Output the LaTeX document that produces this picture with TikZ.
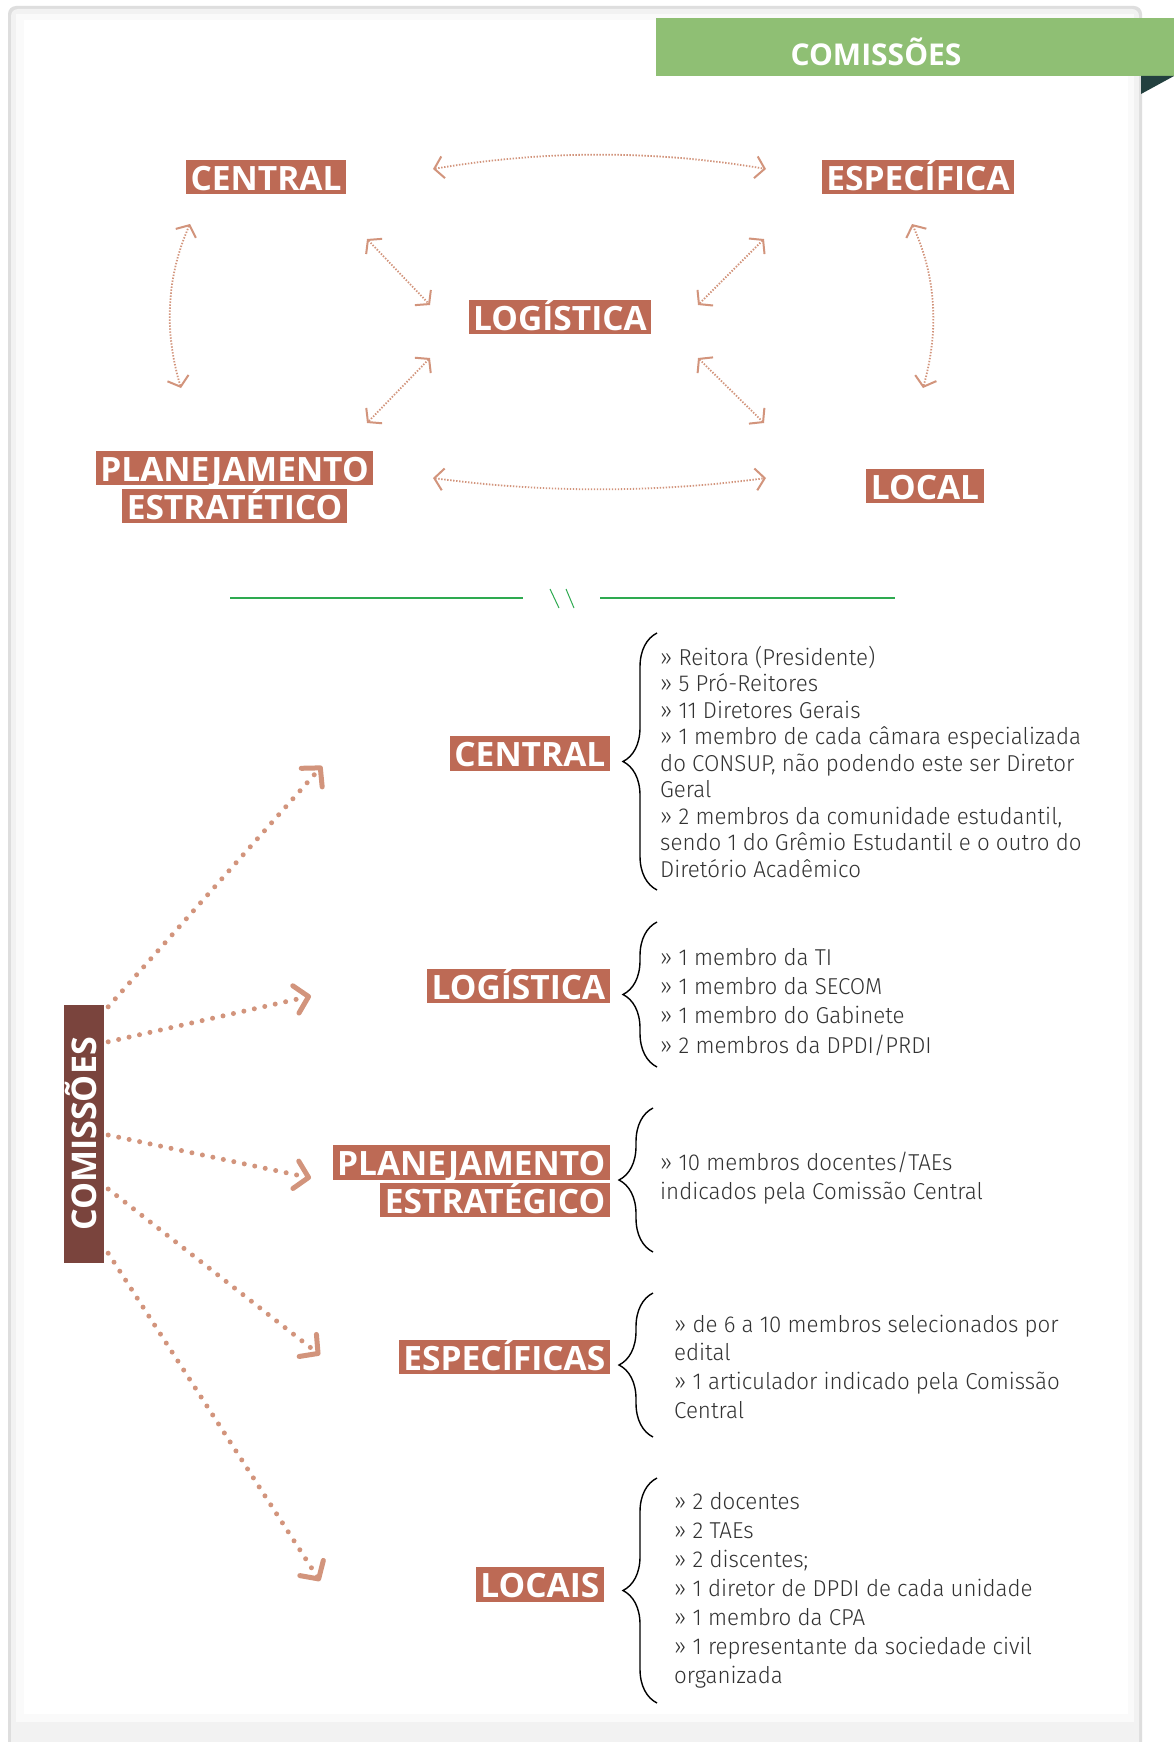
\documentclass[tikz,border=0pt]{standalone}
\usepackage{fontspec}
\setmainfont{Open Sans}
\IfFontExistsTF{Fira Sans Light}{\newfontfamily\bodyfont{Fira Sans Light}[FakeStretch=0.97]}{\newfontfamily\bodyfont{Fira Sans}[FakeStretch=0.97]}
\usetikzlibrary{arrows.meta,calc,decorations.pathreplacing}
\definecolor{lblbrown}{RGB}{189,106,85}
\definecolor{combrown}{RGB}{122,68,61}
\definecolor{arrcol}{RGB}{210,148,124}
\definecolor{bannergreen}{RGB}{143,191,116}
\definecolor{darkteal}{RGB}{35,64,63}
\definecolor{sepgreen}{RGB}{46,170,80}
\definecolor{txtgray}{RGB}{50,50,50}
\tikzset{
  lbl/.style={fill=lblbrown, text=white, font=\bfseries\fontsize{33.5}{33.5}\selectfont,
    inner xsep=4.5pt, inner ysep=0pt, text height=30.5pt, text depth=4pt},
  combox/.style={fill=combrown, text=white, font=\bfseries\fontsize{34}{34}\selectfont,
    minimum width=40pt, minimum height=258pt, inner sep=0pt},
  toparr/.style={draw=arrcol, line width=1.8pt, dash pattern=on 1.4pt off 1.6pt,
    {Straight Barb[length=9pt,width=22pt,line width=2pt]}-{Straight Barb[length=9pt,width=22pt,line width=2pt]}},
  botarr/.style={draw=arrcol, line width=5pt, line cap=round, dash pattern=on 0pt off 10.7pt,
    -{Straight Barb[length=13pt,width=28pt,line width=5pt,round]}},
  bracestyle/.style={decorate, decoration={brace, amplitude=34pt}, line width=1.4pt, black},
  txt/.style={anchor=north west, inner sep=0pt, align=left, text=txtgray},
  sepline/.style={draw=sepgreen, line width=1.6pt}
}
\begin{document}
\begin{tikzpicture}[x=1pt,y=-1pt]
\useasboundingbox (0,0) rectangle (1174,1742);
\fill[white] (0,0) rectangle (1174,1742);
% card
\fill[black!13, rounded corners=8pt] (8,6) rectangle (1142,1770);
\fill[black!5, rounded corners=7pt] (11,9) rectangle (1139,1770);
\fill[black!2] (16,14) rectangle (1134,1722);
\fill[white] (24,20) rectangle (1128,1714);
% banner
\fill[bannergreen] (656,18) rectangle (1174,76);
\node[text=white, font=\bfseries\fontsize{30}{30}\selectfont, inner sep=0pt] (banner) at (876,52) {COMISSÕES};
\fill[darkteal] (1141,76) -- (1174,76) -- (1141,94) -- cycle;

% top diagram
\node[lbl] (tCentral) at (266,177) {CENTRAL};
\node[lbl] (tEspecifica) at (918,177) {ESPECÍFICA};
\node[lbl] (tLogistica) at (560,317) {LOGÍSTICA};
\node[lbl] (tPlan1) at (234.5,468) {PLANEJAMENTO};
\node[lbl] (tPlan2) at (234.5,506) {ESTRATÉTICO};
\node[lbl] (tLocal) at (925,486) {LOCAL};

\draw[toparr] ($(tCentral.center)+(167,-8)$) .. controls (544,150) and (655,150) .. ($(tEspecifica.center)+(-152,-8)$);
\draw[toparr] ($(tPlan1.center)+(198.5,10)$) .. controls (544,493) and (655,493) .. ($(tLocal.center)+(-159,-8)$);
\draw[toparr] ($(tCentral.center)+(-76,47)$) .. controls (165,280) and (165,335) .. ($(tPlan1.center)+(-53.5,-80)$);
\draw[toparr] ($(tEspecifica.center)+(-6,47)$) .. controls (938,280) and (938,335) .. ($(tLocal.center)+(-2,-98)$);
\draw[toparr] ($(tCentral.center)+(101,62)$) -- ($(tLogistica.center)+(-130,-12)$);
\draw[toparr] ($(tEspecifica.center)+(-154,62)$) -- ($(tLogistica.center)+(138,-12)$);
\draw[toparr] ($(tLogistica.center)+(-130,41)$) -- ($(tPlan1.center)+(132.5,-45)$);
\draw[toparr] ($(tLogistica.center)+(138,41)$) -- ($(tLocal.center)+(-161,-63)$);

% separator
\draw[sepline] (230,598) -- (523,598);
\draw[sepline] (600,598) -- (895,598);
\draw[draw=sepgreen, line width=1pt] (550,589) -- (559,608);
\draw[draw=sepgreen, line width=1pt] (566,589) -- (574,608);

% lower diagram
\node[combox] (com) at (84,1134) {\rotatebox{90}{\raisebox{0pt}[24.3pt][0pt]{COMISSÕES}}};
\node[lbl, anchor=east] (bCentral) at (610,753.5) {CENTRAL};
\node[lbl, anchor=east] (bLogistica) at (610,986) {LOGÍSTICA};
\node[lbl, anchor=east] (bPlan1) at (610,1162.5) {PLANEJAMENTO};
\node[lbl, anchor=east] (bPlan2) at (610,1200) {ESTRATÉGICO};
\node[lbl, anchor=east] (bEspecificas) at (610,1357) {ESPECÍFICAS};
\node[lbl, anchor=east] (bLocais) at (604,1584.5) {LOCAIS};

\draw[botarr] ($(com.north east)+(4,2)$) -- ($(bCentral.east)+(-288,12.5)$);
\draw[botarr] ($(com.north east)+(4,37)$) -- ($(bLogistica.east)+(-299,10)$);
\draw[botarr] ($(com.east)+(4,1)$) -- ($(bPlan1.east)+(-299,15.5)$);
\draw[botarr] ($(com.east)+(4,55)$) -- ($(bEspecificas.east)+(-290,-2)$);
\draw[botarr] ($(com.south east)+(4,-10)$) -- ($(bLocais.east)+(-284,-3.5)$);

% braces
\draw[bracestyle] (657,890) -- (657,633);
\draw[bracestyle] (657,1067) -- (657,922);
\draw[bracestyle] (653,1252) -- (653,1108);
\draw[bracestyle] (653,1437) -- (653,1293);
\draw[bracestyle] (657,1703) -- (657,1478);

% texts
\node[txt, font=\bodyfont\fontsize{23}{26.5}\selectfont] (xCentral) at (660,645) {\rule{0pt}{20pt}» Reitora (Presidente)\\» 5 Pró-Reitores\\» 11 Diretores Gerais\\» 1 membro de cada câmara especializada\\do CONSUP, não podendo este ser Diretor\\Geral\\» 2 membros da comunidade estudantil,\\sendo 1 do Grêmio Estudantil e o outro do\\Diretório Acadêmico};
\node[txt, font=\bodyfont\fontsize{23}{29.3}\selectfont] (xLogistica) at (660,945) {\rule{0pt}{20pt}» 1 membro da TI\\» 1 membro da SECOM\\» 1 membro do Gabinete\\» 2 membros da DPDI/PRDI};
\node[txt, font=\bodyfont\fontsize{23}{29}\selectfont] (xPlan) at (660,1150) {\rule{0pt}{20pt}» 10 membros docentes/TAEs\\indicados pela Comissão Central};
\node[txt, font=\bodyfont\fontsize{23}{28.7}\selectfont] (xEspecificas) at (674,1312) {\rule{0pt}{20pt}» de 6 a 10 membros selecionados por\\edital\\» 1 articulador indicado pela Comissão\\Central};
\node[txt, font=\bodyfont\fontsize{23}{29}\selectfont] (xLocais) at (674,1489) {\rule{0pt}{20pt}» 2 docentes\\» 2 TAEs\\» 2 discentes;\\» 1 diretor de DPDI de cada unidade\\» 1 membro da CPA\\» 1 representante da sociedade civil\\organizada};
\end{tikzpicture}
\end{document}
